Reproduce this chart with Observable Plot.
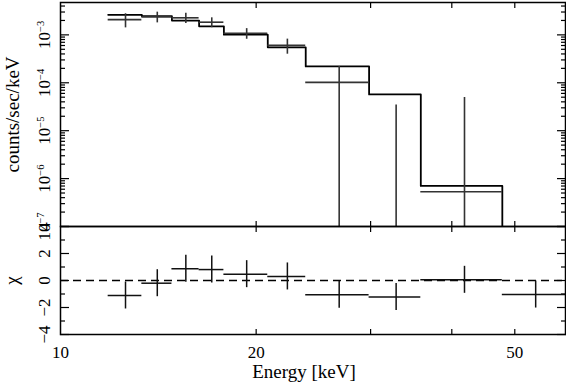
<!DOCTYPE html>
<html><head><meta charset="utf-8">
<script src="https://cdn.jsdelivr.net/npm/d3@7"></script>
<script src="https://cdn.jsdelivr.net/npm/@observablehq/plot@0.6"></script>
<style>
html,body{margin:0;padding:0;background:#fff;}
#chart{position:relative;width:566px;height:382px;overflow:hidden;background:#fff;}
#chart svg{position:absolute;left:0;overflow:visible;font-family:"Liberation Serif","Times New Roman",serif;}
#chart svg text{font-family:"Liberation Serif","Times New Roman",serif;}
</style></head><body><div id="chart"></div>
<script>
// ---- data ----
const binLo   = [11.84, 13.34, 14.84, 16.34, 17.84, 20.84, 23.84, 29.84, 35.84, 47.84];
const binHi   = [13.34, 14.84, 16.34, 17.84, 20.84, 23.84, 29.84, 35.84, 47.84, 59.84];
const rate    = [2.08e-3, 2.38e-3, 2.27e-3, 1.84e-3, 1.08e-3, 6.05e-4, 1.02e-4, 0, 5.3e-7, 0];
const rateErr = [6.8e-4, 6.0e-4, 5.5e-4, 4.3e-4, 2.7e-4, 2.1e-4, 1.18e-4, 3.43e-5, 4.9e-5, 5e-8];
const model   = [2.62e-3, 2.45e-3, 1.99e-3, 1.51e-3, 1.01e-3, 5.51e-4, 2.2e-4, 5.71e-5, 7.03e-7, 5e-8];
const chi     = [-1.11, -0.2, 0.87, 0.81, 0.47, 0.3, -1.06, -1.23, 0.05, -1.04];
const chiErr  = [1, 1, 1, 1, 1, 1, 1, 1, 1, 1];

const yTopMajor  = [1e-7, 1e-6, 1e-5, 1e-4, 1e-3];
const yTopLabels = ["10^−7", "10^−6", "10^−5", "10^−4", "10^−3"];
const chiMajor   = [-4, -2, 0, 2, 4];
const chiLabels  = ["−4", "−2", "0", "2", "4"];
const chiMinor   = [-3, -1, 1, 3];
const xTickValues  = [20, 30, 40, 50];
const xLabelValues = [10, 20, 50];
const xLabels      = ["10", "20", "50"];
const yTitleTop = "counts/sec/keV";
const yTitleBottom = "χ";
const xTitle = "Energy [keV]";

// ---- derived ----
const yTopDomain = [1e-7, 4.74e-3];
const xDomain = [10, 59.84];
const yTopMinor = [];
for (let e = -7; e <= -3; e++) for (let k = 2; k <= 9; k++) { const v = k * 10 ** e; if (v < yTopDomain[1]) yTopMinor.push(v); }

const bins = binLo.map((lo, i) => ({
  lo, hi: binHi[i], mid: (lo + binHi[i]) / 2,
  rate: rate[i], err: rateErr[i], model: model[i], chi: chi[i], chiErr: chiErr[i]
}));
const modelPts = bins.map(d => ({e: d.lo, m: d.model}))
  .concat([{e: binHi[binHi.length - 1], m: model[model.length - 1]}]);

const W = 566, ML = 60, MR = 1;
const FONT = "Liberation Serif";
const baseStyle = {fontSize: "17px", background: "transparent", overflow: "visible", color: "#000"};
const tk = {stroke: "#000", strokeWidth: 1.2, fill: "none"};
const dataColor = "#333";
const txt = {fontFamily: FONT, fill: "#000"};

function inwardY(major, minor, majLen, minLen) {
  return [
    Plot.axisY(major, {anchor: "left", tickSize: majLen, dx: majLen, ...tk}),
    Plot.axisY(minor, {anchor: "left", tickSize: minLen, dx: minLen, ...tk}),
    Plot.axisY(major, {anchor: "right", tickSize: majLen, dx: -majLen, ...tk}),
    Plot.axisY(minor, {anchor: "right", tickSize: minLen, dx: -minLen, ...tk})
  ];
}
function inwardX(vals, len) {
  return [
    Plot.axisX(vals, {anchor: "bottom", tickSize: len, dy: -len, ...tk}),
    Plot.axisX(vals, {anchor: "top", tickSize: len, dy: len, ...tk})
  ];
}

const topPlot = Plot.plot({
  width: W, height: 226, marginLeft: ML, marginRight: MR, marginTop: 2, marginBottom: 0,
  style: baseStyle,
  x: {type: "log", domain: xDomain},
  y: {type: "log", domain: yTopDomain},
  marks: [
    ...inwardY(yTopMajor, yTopMinor, 9, 5),
    ...inwardX(xTickValues, 5),
    Plot.line(modelPts, {x: "e", y: "m", curve: "step-after", stroke: "#000", strokeWidth: 1.8, clip: true}),
    Plot.ruleY(bins.filter(d => d.rate > 0), {y: "rate", x1: "lo", x2: "hi", stroke: dataColor, strokeWidth: 1.6, clip: true}),
    Plot.ruleX(bins, {x: "mid", y1: d => Math.max(d.rate - d.err, 1e-10), y2: d => d.rate + d.err, stroke: dataColor, strokeWidth: 1.6, clip: true}),
    Plot.text(yTopMajor, {y: d => d, text: (d, i) => yTopLabels[i], frameAnchor: "left", dx: -16, rotate: -90, textAnchor: "middle", lineAnchor: "middle", fontSize: 17, ...txt}),
    Plot.text([yTitleTop], {text: d => d, frameAnchor: "left", dx: -48, rotate: -90, textAnchor: "middle", lineAnchor: "middle", fontSize: 19, ...txt}),
    Plot.frame({stroke: "#000", strokeWidth: 1.5})
  ]
});

const botPlot = Plot.plot({
  width: W, height: 156, marginLeft: ML, marginRight: MR, marginTop: 0, marginBottom: 48,
  style: baseStyle,
  x: {type: "log", domain: xDomain},
  y: {domain: [-4, 4]},
  marks: [
    ...inwardY(chiMajor, chiMinor, 9, 5),
    ...inwardX(xTickValues, 5),
    Plot.ruleY([0], {stroke: "#000", strokeWidth: 1.3, strokeDasharray: "8,5"}),
    Plot.ruleY(bins, {y: "chi", x1: "lo", x2: "hi", stroke: "#111", strokeWidth: 1.5, clip: true}),
    Plot.ruleX(bins, {x: "mid", y1: d => d.chi - d.chiErr, y2: d => d.chi + d.chiErr, stroke: "#111", strokeWidth: 1.5, clip: true}),
    Plot.text(chiMajor, {y: d => d, text: (d, i) => chiLabels[i], frameAnchor: "left", dx: -16, rotate: -90, textAnchor: "middle", lineAnchor: "middle", fontSize: 17, ...txt}),
    Plot.text([yTitleBottom], {text: d => d, frameAnchor: "left", dx: -49, rotate: -90, textAnchor: "middle", lineAnchor: "middle", fontSize: 19, ...txt}),
    Plot.text(xLabelValues, {x: d => d, text: (d, i) => xLabels[i], frameAnchor: "bottom", dy: 18, lineAnchor: "middle", fontSize: 17, ...txt}),
    Plot.text([xTitle], {text: d => d, frameAnchor: "bottom", dy: 37, dx: -9, lineAnchor: "middle", fontSize: 19, ...txt}),
    Plot.frame({stroke: "#000", strokeWidth: 1.5})
  ]
});

function supify(svg) {
  svg.querySelectorAll("text").forEach(t => {
    const m = t.textContent.match(/^(.*)\^(.*)$/);
    if (!m) return;
    t.textContent = "";
    const ns = "http://www.w3.org/2000/svg";
    const a = document.createElementNS(ns, "tspan"); a.textContent = m[1];
    const b = document.createElementNS(ns, "tspan"); b.textContent = m[2];
    b.setAttribute("font-size", "0.62em"); b.setAttribute("dy", "-0.6em");
    t.appendChild(a); t.appendChild(b);
  });
}
supify(topPlot);

const chart = document.getElementById("chart");
topPlot.style.top = "0px";
botPlot.style.top = "226px";
chart.appendChild(topPlot);
chart.appendChild(botPlot);
</script></body></html>
